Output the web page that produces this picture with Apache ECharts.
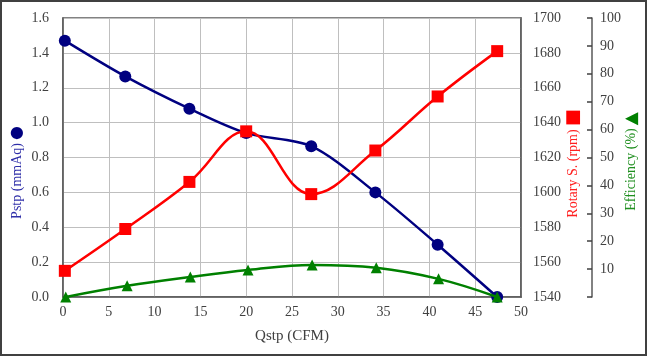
<!DOCTYPE html>
<html><head><meta charset="utf-8">
<script src="https://cdn.jsdelivr.net/npm/echarts@6/dist/echarts.min.js"></script>
<style>html,body{margin:0;padding:0;background:#fff}#c{width:647px;height:356px}</style>
</head><body><div id="c"></div>
<script>
const flowX = [0.2, 6.8, 13.8, 20.0, 27.1, 34.1, 40.9, 47.4];
const pstp = [1.47, 1.265, 1.08, 0.94, 0.865, 0.60, 0.30, 0.0];
const rpm = [1555, 1579, 1606, 1635, 1599, 1624, 1655, 1681];
const effX = [0.3, 7.0, 13.9, 20.2, 27.2, 34.2, 41.0, 47.4];
const eff = [0, 4.0, 7.2, 9.7, 11.5, 10.5, 6.5, 0];
const xTicks = [0, 5, 10, 15, 20, 25, 30, 35, 40, 45, 50];

const FONT = '"Liberation Serif", "Times New Roman", serif';
const TXT = '#404040';
const chart = echarts.init(document.getElementById('c'));
const pair = (xs, ys) => xs.map((x, i) => [x, ys[i]]);

chart.setOption({
  animation: false,
  textStyle: { fontFamily: FONT },
  graphic: [{ type: 'rect', shape: { x: 1, y: 1, width: 645, height: 354 }, style: { fill: 'none', stroke: '#404040', lineWidth: 2 }, silent: true }],
  grid: { left: 63, right: 126, top: 18, bottom: 59, show: true, borderColor: '#595959', borderWidth: 1.5, backgroundColor: 'transparent', outerBoundsMode: 'none', containLabel: false },
  xAxis: {
    type: 'value', min: xTicks[0], max: xTicks[xTicks.length - 1], interval: 5,
    name: 'Qstp (CFM)', nameLocation: 'middle', nameGap: 32, nameMoveOverlap: false,
    nameTextStyle: { color: TXT, fontSize: 15, fontFamily: FONT },
    axisLine: { lineStyle: { color: '#595959', width: 1.5 } },
    axisTick: { show: false },
    axisLabel: { color: TXT, fontSize: 14, fontFamily: FONT, margin: 8 },
    splitLine: { show: true, lineStyle: { color: '#bfbfbf', width: 1 } }
  },
  yAxis: [
    {
      type: 'value', min: 0, max: 1.6, interval: 0.2, position: 'left',
      name: '{t|Pstp (mmAq)} {m|●}{g|}', nameLocation: 'middle', nameGap: 38, nameRotate: 90, nameMoveOverlap: false,
      nameTextStyle: { rich: { t: { color: '#2e2ea8', fontSize: 14, fontFamily: FONT }, m: { color: '#000080', fontSize: 16, fontFamily: 'DejaVu Sans' }, g: { width: 30 } } },
      axisLine: { show: true, lineStyle: { color: '#595959', width: 1.5 } },
      axisTick: { show: false },
      axisLabel: { color: TXT, fontSize: 14, fontFamily: FONT, margin: 14, formatter: v => v.toFixed(1) },
      splitLine: { show: true, lineStyle: { color: '#bfbfbf', width: 1 } }
    },
    {
      type: 'value', min: 1540, max: 1700, interval: 20, position: 'right',
      name: '{t|Rotary S. (rpm)} {m|■}{g|}', nameLocation: 'middle', nameGap: 43, nameRotate: 90, nameMoveOverlap: false,
      nameTextStyle: { rich: { t: { color: '#ff2020', fontSize: 14, fontFamily: FONT }, m: { color: '#ff0000', fontSize: 18, fontFamily: 'DejaVu Sans' }, g: { width: 12 } } },
      axisLine: { show: true, lineStyle: { color: '#595959', width: 1.5 } },
      axisTick: { show: false },
      axisLabel: { color: TXT, fontSize: 14, fontFamily: FONT, margin: 12, formatter: v => String(v) },
      splitLine: { show: false }
    },
    {
      type: 'value', min: 0, max: 100, interval: 10, position: 'right', offset: 71,
      name: '{t|Efficiency (%)} {m|▲}{g|}', nameLocation: 'middle', nameGap: 31, nameRotate: 90, nameMoveOverlap: false,
      nameTextStyle: { rich: { t: { color: '#1f8f1f', fontSize: 14, fontFamily: FONT }, m: { color: '#008000', fontSize: 17, fontFamily: 'DejaVu Sans' }, g: { width: 8 } } },
      axisLine: { show: true, lineStyle: { color: '#595959', width: 1.5 } },
      axisTick: { show: true, inside: true, length: 5, lineStyle: { color: '#404040', width: 1.5 } },
      axisLabel: { color: TXT, fontSize: 14, fontFamily: FONT, margin: 8, formatter: v => v === 0 ? '' : String(v) },
      splitLine: { show: false }
    }
  ],
  series: [
    {
      type: 'line', yAxisIndex: 0, data: pair(flowX, pstp), smooth: 0.3,
      symbol: 'circle', symbolSize: 12,
      lineStyle: { color: '#000080', width: 2.5 }, itemStyle: { color: '#000080' }, z: 2
    },
    {
      type: 'line', yAxisIndex: 1, data: pair(flowX, rpm), smooth: 0.4,
      symbol: 'rect', symbolSize: 12,
      lineStyle: { color: '#ff0000', width: 2.5 }, itemStyle: { color: '#ff0000' }, z: 3
    },
    {
      type: 'line', yAxisIndex: 2, data: pair(effX, eff), smooth: 0.4,
      symbol: 'triangle', symbolSize: 11,
      lineStyle: { color: '#008000', width: 2.5 }, itemStyle: { color: '#008000' }, z: 4
    }
  ]
});
</script></body></html>
